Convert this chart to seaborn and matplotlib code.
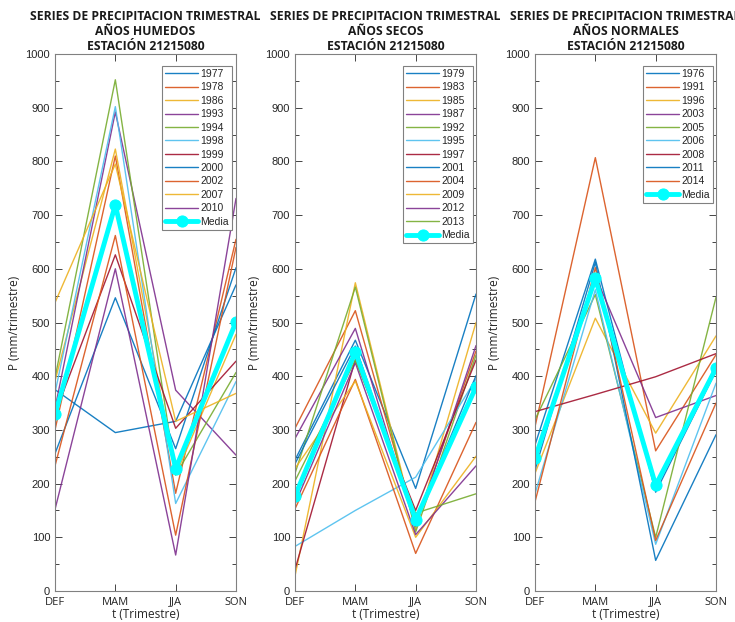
import matplotlib
matplotlib.use('Agg')
import matplotlib.pyplot as plt
import seaborn as sns
import pandas as pd
from matplotlib.ticker import MultipleLocator

trimestres = ['DEF', 'MAM', 'JJA', 'SON']

# años humedos
hum_years = ['1977', '1978', '1986', '1993', '1994', '1998', '1999', '2000', '2002', '2007', '2010']
hum_vals = [
    [375, 295, 316, 570],
    [300, 810, 182, 655],
    [391, 823, 216, 478],
    [340, 892, 374, 253],
    [397, 952, 216, 407],
    [369, 902, 163, 390],
    [330, 626, 303, 428],
    [256, 546, 265, 602],
    [233, 662, 104, 640],
    [537, 795, 316, 368],
    [152, 600, 67, 731],
]
hum_media = [329, 719, 228, 501]

# años secos
sec_years = ['1979', '1983', '1985', '1987', '1992', '1995', '1997', '2001', '2004', '2009', '2012', '2013']
sec_vals = [
    [244, 467, 191, 553],
    [303, 522, 125, 447],
    [28, 574, 115, 500],
    [284, 489, 120, 457],
    [219, 566, 110, 439],
    [83, 150, 212, 395],
    [40, 431, 150, 430],
    [237, 456, 130, 401],
    [153, 394, 70, 314],
    [228, 391, 100, 251],
    [162, 425, 105, 233],
    [205, 430, 145, 181],
]
sec_media = [177, 445, 133, 380]

# años normales
nor_years = ['1976', '1991', '1996', '2003', '2005', '2006', '2008', '2011', '2014']
nor_vals = [
    [272, 618, 184, 410],
    [306, 807, 261, 440],
    [219, 508, 294, 475],
    [240, 587, 323, 364],
    [319, 552, 100, 547],
    [181, 561, 87, 387],
    [334, 366, 399, 442],
    [225, 612, 57, 291],
    [166, 602, 94, 350],
]
nor_media = [247, 582, 197, 415]

subtitulos = ['AÑOS HUMEDOS', 'AÑOS SECOS', 'AÑOS NORMALES']

matlab = ['#0072BD', '#D95319', '#EDB120', '#7E2F8E', '#77AC30', '#4DBEEE', '#A2142F']

sns.set_theme(style='ticks')
plt.rcParams['font.family'] = ['Open Sans', 'DejaVu Sans']

fig = plt.figure(figsize=(7.35, 6.22), dpi=100)
lefts = [55, 295, 535]
panels = [(hum_years, hum_vals, hum_media),
          (sec_years, sec_vals, sec_media),
          (nor_years, nor_vals, nor_media)]
leg_right = [0.978, 0.983, 0.983]

for k, (years, vals, media) in enumerate(panels):
    ax = fig.add_axes([lefts[k] / 735, 1 - 591 / 622, 181 / 735, 537 / 622])
    rows = []
    for y, v in zip(years, vals):
        for i, p in enumerate(v):
            rows.append({'year': y, 't': i, 'P': p})
    df = pd.DataFrame(rows)
    for j, y in enumerate(years):
        sns.lineplot(data=df[df['year'] == y], x='t', y='P', color=matlab[j % 7],
                     lw=1.0, alpha=0.9, label=y, ax=ax, sort=False)
    dm = pd.DataFrame({'t': range(4), 'P': media})
    sns.lineplot(data=dm, x='t', y='P', color='cyan', lw=3.5, marker='o',
                 markersize=8, markeredgecolor='cyan', label='Media', ax=ax)

    ax.set_xlim(0, 3)
    ax.set_ylim(0, 1000)
    ax.set_xticks(range(4))
    ax.set_xticklabels(trimestres)
    ax.yaxis.set_major_locator(MultipleLocator(100))
    ax.yaxis.set_minor_locator(MultipleLocator(50))
    ax.tick_params(which='both', direction='in', top=True, right=True,
                   colors='#262626', labelsize=8, width=0.6)
    ax.tick_params(which='major', length=5)
    ax.tick_params(which='minor', length=3)
    ax.tick_params(axis='x', pad=4)
    for lab in ax.get_yticklabels():
        lab.set_family('Liberation Sans')
    for s in ax.spines.values():
        s.set_color('#808080')
        s.set_linewidth(0.8)
    ax.set_xlabel('t (Trimestre)', fontsize=8.5, color='#262626', labelpad=0)
    ax.set_ylabel('P (mm/trimestre)', fontsize=8.5, color='#262626', labelpad=3)
    ax.set_title('SERIES DE PRECIPITACION TRIMESTRAL\n' + subtitulos[k] + '\nESTACIÓN 21215080',
                 fontsize=8.7, fontweight='bold', color='#1a1a1a', pad=3, linespacing=1.2)
    leg = ax.legend(loc='upper right', bbox_to_anchor=(leg_right[k], 0.978),
                    borderaxespad=0, handlelength=3.2,
                    handletextpad=0.2, labelspacing=0.33, borderpad=0.3,
                    fancybox=False, framealpha=1, edgecolor='#808080',
                    prop={'family': 'Liberation Sans', 'size': 7.5})
    leg.get_frame().set_linewidth(0.8)

fig.savefig('out.png', dpi=100)
